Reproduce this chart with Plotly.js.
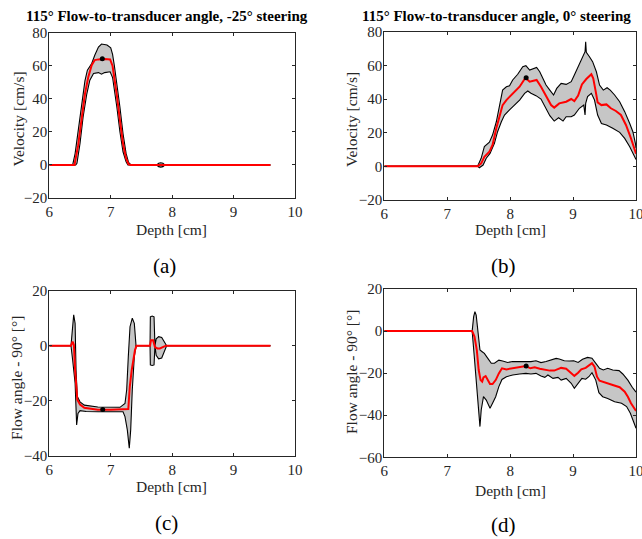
<!DOCTYPE html>
<html>
<head>
<meta charset="utf-8">
<script src="https://cdn.plot.ly/plotly-3.0.1.min.js"></script>
<style>html,body{margin:0;padding:0;background:#fff;}#chart{width:642px;height:539px;}</style>
</head>
<body>
<div id="chart"></div>
<script>
// ---------- Panel (a): velocity, -25° steering ----------
const upperA_x = [6.0, 6.38, 6.42, 6.47, 6.53, 6.58, 6.62, 6.69, 6.74, 6.80, 6.85, 6.94, 7.0, 7.03, 7.06, 7.10, 7.15, 7.20, 7.25, 7.29, 7.33, 7.75, 7.78, 7.815, 7.85, 7.88, 9.6];
const upperA_y = [0, 0, 6.9, 21, 37, 51, 57.5, 61.5, 66.5, 71.5, 73.3, 72.7, 71, 67, 60, 50, 35, 19, 7, 1.5, 0, 0, 1.0, 1.3, 1.0, 0, 0];
const lowerA_x = [6.0, 6.43, 6.45, 6.5, 6.55, 6.61, 6.66, 6.72, 6.8, 6.85, 6.9, 6.99, 7.03, 7.06, 7.10, 7.15, 7.20, 7.25, 7.28, 7.75, 7.78, 7.815, 7.85, 7.88, 9.6];
const lowerA_y = [0, 0, 1, 13, 29, 43, 51.4, 55.5, 56, 55, 56, 56.5, 53, 46, 35, 20, 8, 2, 0, 0, -1.0, -1.3, -1.0, 0, 0];
const meanA_x  = [6.0, 6.41, 6.47, 6.53, 6.58, 6.635, 6.69, 6.74, 6.8, 6.9, 6.99, 7.03, 7.06, 7.10, 7.15, 7.20, 7.25, 7.29, 7.32, 9.6];
const meanA_y  = [0, 0, 12, 29, 43, 53.4, 60.5, 63.6, 64, 64.2, 64, 60, 53, 42, 27, 13, 4, 0.5, 0, 0];
const dotA = [6.863, 64.4];

// ---------- Panel (b): velocity, 0° steering ----------
const upperB_x = [6.0, 7.486, 7.539, 7.59, 7.67, 7.72, 7.78, 7.83, 7.88, 7.94, 7.99, 8.04, 8.12, 8.2, 8.25, 8.31, 8.37, 8.42, 8.47, 8.52, 8.57, 8.63, 8.69, 8.74, 8.81, 8.89, 8.97, 9.02, 9.08, 9.14, 9.19, 9.20, 9.21, 9.26, 9.31, 9.37, 9.42, 9.48, 9.54, 9.59, 9.66, 9.74, 9.82, 9.9, 9.95, 9.99, 10.0];
const upperB_y = [0, 0.4, 4.8, 11.7, 14.3, 18.6, 26.5, 36.4, 45.3, 47.3, 47.9, 51.3, 54.7, 59.2, 59.8, 57.2, 58.2, 58.8, 56.2, 52.3, 48.3, 45.3, 42.4, 46.3, 49.3, 48.7, 50.3, 54.3, 59.2, 64.2, 68.1, 74, 67.7, 65.1, 62.2, 56.2, 48.3, 45.3, 46.7, 45.3, 42.4, 38.4, 32.5, 25.5, 20.6, 13.7, 11];
const lowerB_x = [6.0, 7.486, 7.51, 7.57, 7.62, 7.68, 7.75, 7.8, 7.86, 7.91, 7.99, 8.07, 8.15, 8.23, 8.28, 8.33, 8.41, 8.49, 8.56, 8.63, 8.7, 8.77, 8.84, 8.89, 8.97, 9.02, 9.1, 9.17, 9.19, 9.2, 9.23, 9.29, 9.34, 9.39, 9.45, 9.53, 9.63, 9.74, 9.82, 9.9, 9.99, 10.0];
const lowerB_y = [0, 0, -0.8, 0.8, 4.8, 7.7, 13.7, 20.6, 26.5, 30.5, 33.5, 36.4, 39.4, 43.4, 44.8, 43.4, 42, 40, 35.4, 30.1, 26.9, 28.9, 26.9, 29.5, 29.5, 30.5, 34.5, 36.4, 30.5, 37.4, 41.4, 43.4, 39.4, 30.5, 25.5, 24.6, 22.6, 20.2, 16.6, 11.7, 4.8, 4];
const meanB_x  = [6.0, 7.486, 7.54, 7.59, 7.67, 7.72, 7.78, 7.83, 7.88, 7.94, 7.99, 8.07, 8.15, 8.23, 8.25, 8.31, 8.36, 8.42, 8.49, 8.57, 8.65, 8.7, 8.78, 8.89, 8.97, 9.02, 9.08, 9.14, 9.21, 9.29, 9.32, 9.36, 9.39, 9.45, 9.53, 9.6, 9.68, 9.76, 9.84, 9.92, 9.99, 10.0];
const meanB_y  = [0, 0, 1.8, 5.7, 8.7, 12.7, 22.6, 29.5, 36.4, 39.4, 41.4, 44.4, 47.3, 51.9, 52.3, 50.3, 50.7, 51.3, 47.3, 41.4, 36.4, 34.9, 37.4, 38.4, 40.0, 38.8, 42, 48.7, 51.9, 54.7, 52.3, 44.4, 38, 36.4, 36.8, 34.5, 32.9, 30.5, 24.6, 16.6, 8.7, 7.5];
const dotB = [8.254, 52.7];

// ---------- Panel (c): flow angle, -25° steering ----------
const upperC_x = [6.0, 6.353, 6.397, 6.42, 6.435, 6.456, 6.5, 6.57, 6.79, 7.01, 7.151, 7.232, 7.26, 7.286, 7.314, 7.351, 7.384, 7.412, 7.64, 7.645, 7.675, 7.705, 7.71, 7.72, 7.74, 7.78, 7.83, 7.87, 7.91, 9.6];
const upperC_y = [0, 0, 11.2, 8.1, -8.8, -18.5, -20.4, -21.6, -22.3, -22.5, -22.4, -21, -16, -4, 6.9, 10, 8.1, 0, 0, 10.5, 10.8, 10.5, 0, 0, 2.5, 3.3, 3, 1.5, 0, 0];
const lowerC_x = [6.0, 6.353, 6.38, 6.42, 6.445, 6.467, 6.5, 6.6, 6.8, 7.0, 7.151, 7.2, 7.232, 7.27, 7.302, 7.325, 7.351, 7.384, 7.412, 7.64, 7.645, 7.675, 7.705, 7.71, 7.72, 7.74, 7.78, 7.83, 7.87, 7.91, 9.6];
const lowerC_y = [0, 0, -5.2, -13.6, -28.8, -24.6, -23.6, -23.9, -24, -24, -23.8, -24, -25.8, -30.6, -37.3, -30.6, -16, -4, 0, 0, -7, -7.2, -7, 0, 0, -3.5, -4.8, -4.5, -2.5, 0, 0];
const meanC_x  = [6.0, 6.353, 6.38, 6.40, 6.42, 6.456, 6.5, 6.57, 6.79, 7.0, 7.286, 7.31, 7.342, 7.37, 7.395, 7.42, 7.64, 7.655, 7.69, 7.72, 7.76, 7.80, 7.85, 7.90, 9.6];
const meanC_y  = [0, 0, 1.5, 0.3, -8.8, -19.6, -21.4, -22.6, -23.3, -23.3, -23.0, -15, -8.8, -4, -1.6, 0, 0, 2, 2, -0.5, -1, -1, -0.5, 0, 0];
const dotC = [6.87, -23.2];

// ---------- Panel (d): flow angle, 0° steering ----------
const upperD_x = [6.0, 7.396, 7.42, 7.44, 7.46, 7.49, 7.52, 7.555, 7.59, 7.645, 7.7, 7.75, 7.82, 7.88, 7.96, 8.04, 8.15, 8.25, 8.33, 8.41, 8.49, 8.57, 8.65, 8.73, 8.78, 8.86, 8.94, 9.01, 9.08, 9.15, 9.23, 9.3, 9.37, 9.42, 9.48, 9.55, 9.63, 9.73, 9.79, 9.87, 9.94, 9.99, 10.0];
const upperD_y = [0, 0, 6.9, 9.2, 7.6, -1.1, -9, -9.8, -10.6, -13, -15.3, -15.3, -13.8, -14.2, -14.9, -14.5, -14.5, -14.2, -14.5, -14.1, -15, -14.5, -13.8, -13, -13.3, -14.1, -14.2, -14.1, -14.9, -13.4, -12.5, -12.9, -15.7, -17.7, -18.5, -17.7, -18.5, -18.8, -20.4, -23.3, -26.7, -28.8, -29];
const lowerD_x = [6.0, 7.396, 7.43, 7.47, 7.5, 7.52, 7.54, 7.576, 7.62, 7.66, 7.68, 7.72, 7.77, 7.82, 7.87, 7.94, 8.04, 8.15, 8.25, 8.33, 8.41, 8.49, 8.55, 8.6, 8.68, 8.76, 8.81, 8.89, 8.97, 9.02, 9.08, 9.14, 9.2, 9.25, 9.3, 9.36, 9.41, 9.47, 9.55, 9.66, 9.77, 9.85, 9.91, 9.96, 10.0];
const lowerD_y = [0, 0, -12.2, -26.4, -37.5, -45.4, -37.5, -31.2, -32.8, -35.6, -36.7, -34.3, -31.2, -26.4, -23, -21.7, -20.9, -20.4, -20.1, -20.4, -20.1, -21.4, -22, -20.9, -22.5, -22, -23.3, -22.5, -24.8, -27.2, -24.8, -22.5, -22.9, -21.7, -19.8, -23.3, -29.3, -31.2, -32, -33.6, -34.3, -35.9, -39.1, -43, -46.2];
const meanD_x  = [6.0, 7.396, 7.433, 7.47, 7.5, 7.53, 7.555, 7.576, 7.61, 7.645, 7.68, 7.72, 7.77, 7.82, 7.87, 7.94, 8.02, 8.1, 8.17, 8.25, 8.32, 8.39, 8.47, 8.55, 8.63, 8.7, 8.76, 8.81, 8.89, 8.97, 9.02, 9.08, 9.13, 9.2, 9.26, 9.3, 9.34, 9.38, 9.42, 9.53, 9.63, 9.74, 9.82, 9.87, 9.92, 9.99, 10.0];
const meanD_y  = [0, 0, -2.6, -9, -18.5, -23.3, -24, -22, -21.4, -23.3, -25.2, -25.2, -23.3, -20.1, -17.7, -18.2, -17.7, -17.4, -17.1, -16.6, -17.7, -17.2, -17.9, -18.5, -18.8, -18.8, -18.2, -17.5, -17.9, -19.8, -21.3, -19.8, -18.2, -17.5, -16.3, -15.3, -16.9, -21.7, -23.6, -24.5, -25.6, -26.7, -28.8, -31.2, -34.3, -37.5, -38];
const dotD = [8.254, -16.6];

// ---------- Text ----------
const titleA = "115° Flow-to-transducer angle, -25° steering";
const titleB = "115° Flow-to-transducer angle, 0° steering";
const yTitleVel = "Velocity [cm/s]";
const yTitleAng = "Flow angle - 90° [°]";
const xTitle = "Depth [cm]";
const panelLabels = ["(a)", "(b)", "(c)", "(d)"];
const xTicks = [6, 7, 8, 9, 10];
const yTicksVel = [-20, 0, 20, 40, 60, 80];
const yTicksAngC = [-40, -20, 0, 20];
const yTicksAngD = [-60, -40, -20, 0, 20];

const FONT = '"Liberation Serif", "Times New Roman", serif';
const FILL = "rgb(198,198,198)";
const AX = "#262626";

function panel(ax, up_x, up_y, lo_x, lo_y, m_x, m_y, dot) {
  const xa = "x" + ax, ya = "y" + ax;
  return [
    {x: lo_x, y: lo_y, xaxis: xa, yaxis: ya, mode: "lines", line: {color: "#000", width: 1.1}, hoverinfo: "skip"},
    {x: up_x, y: up_y, xaxis: xa, yaxis: ya, mode: "lines", fill: "tonexty", fillcolor: FILL, line: {color: "#000", width: 1.1}, hoverinfo: "skip"},
    {x: m_x, y: m_y, xaxis: xa, yaxis: ya, mode: "lines", line: {color: "#ff0000", width: 2}},
    {x: [dot[0]], y: [dot[1]], xaxis: xa, yaxis: ya, mode: "markers", marker: {color: "#000", size: 5}}
  ];
}

const data = [].concat(
  panel("", upperA_x, upperA_y, lowerA_x, lowerA_y, meanA_x, meanA_y, dotA),
  panel("2", upperB_x, upperB_y, lowerB_x, lowerB_y, meanB_x, meanB_y, dotB),
  panel("3", upperC_x, upperC_y, lowerC_x, lowerC_y, meanC_x, meanC_y, dotC),
  panel("4", upperD_x, upperD_y, lowerD_x, lowerD_y, meanD_x, meanD_y, dotD)
);

function xax(dom, anchor) {
  return {domain: dom, anchor: anchor, range: [6, 10], tickvals: xTicks, ticks: "inside", ticklen: 3,
    tickcolor: AX, showline: true, linecolor: AX, linewidth: 1, mirror: "ticks",
    ticklabeloverflow: "allow",
    showgrid: false, zeroline: false, tickfont: {family: FONT, size: 15, color: AX}};
}
function yax(dom, anchor, range, vals) {
  return {domain: dom, anchor: anchor, range: range, tickvals: vals, ticks: "inside", ticklen: 3,
    tickcolor: AX, showline: true, linecolor: AX, linewidth: 1, mirror: "ticks",
    ticklabelstandoff: -2,
    showgrid: false, zeroline: false, tickfont: {family: FONT, size: 15, color: AX}};
}

function ann(text, x, y, size, color, opts) {
  return Object.assign({text: text, x: x, y: y, xref: "paper", yref: "paper", xanchor: "center", yanchor: "middle",
    showarrow: false, font: {family: FONT, size: size, color: color}}, opts || {});
}

const layout = {
  width: 642, height: 539,
  margin: {l: 0, r: 0, t: 0, b: 0},
  paper_bgcolor: "#fff", plot_bgcolor: "#fff",
  showlegend: false,
  xaxis:  xax([0.0768, 0.4595], "y"),
  yaxis:  yax([0.6327, 0.9388], "x", [-20, 80], yTicksVel),
  xaxis2: xax([0.5986, 0.9907], "y2"),
  yaxis2: yax([0.6289, 0.9412], "x2", [-20, 80], yTicksVel),
  xaxis3: xax([0.0768, 0.4595], "y3"),
  yaxis3: yax([0.1545, 0.4607], "x3", [-40, 20], yTicksAngC),
  xaxis4: xax([0.5986, 0.9907], "y4"),
  yaxis4: yax([0.1516, 0.4638], "x4", [-60, 20], yTicksAngD),
  annotations: [
    ann("<b>" + titleA + "</b>", 0.2609, 0.9703, 15, "#000"),
    ann("<b>" + titleB + "</b>", 0.7726, 0.9703, 15, "#000"),
    ann(yTitleVel, 0.0273, 0.7792, 15.5, AX, {textangle: -90}),
    ann(yTitleVel, 0.5467, 0.7792, 15.5, AX, {textangle: -90}),
    ann(yTitleAng, 0.0249, 0.2987, 15.5, AX, {textangle: -90}),
    ann(yTitleAng, 0.5467, 0.3098, 15.5, AX, {textangle: -90}),
    ann(xTitle, 0.2674, 0.5733, 15.5, AX),
    ann(xTitle, 0.7944, 0.5733, 15.5, AX),
    ann(xTitle, 0.2679, 0.0965, 15.5, AX),
    ann(xTitle, 0.7944, 0.0909, 15.5, AX),
    ann(panelLabels[0], 0.2570, 0.5065, 21, "#000"),
    ann(panelLabels[1], 0.7835, 0.5065, 21, "#000"),
    ann(panelLabels[2], 0.2586, 0.0297, 21, "#000"),
    ann(panelLabels[3], 0.7835, 0.0260, 21, "#000")
  ]
};

Plotly.newPlot("chart", data, layout, {displayModeBar: false, staticPlot: true});
</script>
</body>
</html>
